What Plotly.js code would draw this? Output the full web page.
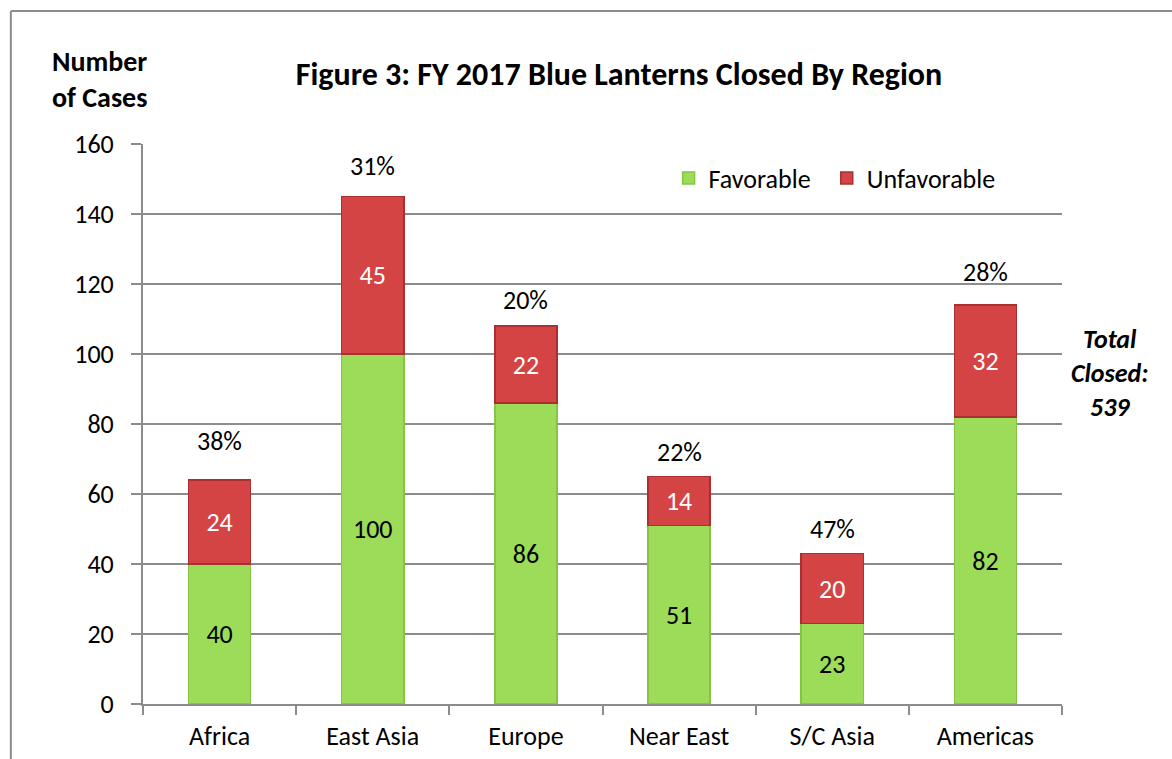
<!DOCTYPE html>
<html><head><meta charset="utf-8">
<script src="https://cdn.plot.ly/plotly-3.0.1.min.js"></script>
<style>html,body{margin:0;padding:0;background:#fff}#chart{width:1172px;height:759px}</style>
</head><body><div id="chart"></div>
<script>
const regions = ["Africa","East Asia","Europe","Near East","S/C Asia","Americas"];
const favorable = [40,100,86,51,23,82];
const unfavorable = [24,45,22,14,20,32];
const pctLabels = ["38%","31%","20%","22%","47%","28%"];
const FONT = "Carlito, Calibri, Lato, sans-serif";

const totals = favorable.map((v,i)=>v+unfavorable[i]);
const pctShift = [39, 31, 26, 25, 25, 33];

const traces = [
 {type:'bar', name:'Favorable', x:regions, y:favorable, width:0.405, legend:'legend',
  marker:{color:'#9cdc58', line:{color:'#86c444', width:1.5}},
  text:favorable.map(String), textposition:'inside', insidetextanchor:'middle',
  textfont:{family:FONT,size:26,color:'#000'}, constraintext:'none', hoverinfo:'none'},
 {type:'bar', name:'Unfavorable', x:regions, y:unfavorable, width:0.405, legend:'legend2',
  marker:{color:'#d44444', line:{color:'#a83030', width:1.5}},
  text:unfavorable.map(String), textposition:'inside', insidetextanchor:'middle',
  textfont:{family:FONT,size:26,color:'#fff'}, constraintext:'none', hoverinfo:'none'}
];

const annotations = regions.map((r,i)=>({x:r, y:totals[i], xref:'x', yref:'y', text:pctLabels[i],
  showarrow:false, yanchor:'middle', yshift:pctShift[i], font:{family:FONT,size:26,color:'#000'}}));
annotations.push({xref:'paper', yref:'paper', x:(1109-143)/918, y:(704-373)/560, text:'<b><i>Total<br>Closed:<br>539</i></b>',
  showarrow:false, xanchor:'center', yanchor:'middle', align:'center', font:{family:FONT,size:26,color:'#000'}});
annotations.push({xref:'paper', yref:'paper', x:(50-143)/918, y:(704-80)/560, text:'<b>Number<br>of Cases</b>',
  showarrow:false, xanchor:'left', yanchor:'middle', align:'left', font:{family:FONT,size:28,color:'#000'}});

const legendBase = {orientation:'h', y:(704-178)/560, xanchor:'left', yanchor:'middle', font:{family:FONT,size:26}, bgcolor:'rgba(0,0,0,0)', itemwidth:30};

const layout = {
 width:1172, height:759, barmode:'stack', showlegend:true,
 margin:{l:143, r:110, t:144, b:55},
 paper_bgcolor:'#fff', plot_bgcolor:'#fff',
 font:{family:FONT, size:26, color:'#000'},
 title:{text:'<b>Figure 3: FY 2017 Blue Lanterns Closed By Region</b>', x:(619)/1172, xanchor:'center', y:1-74/759, yanchor:'middle', font:{family:FONT,size:32,color:'#000'}},
 xaxis:{showline:true, linecolor:'#8c8c8c', linewidth:2, ticks:'outside', tickson:'boundaries', ticklen:9, tickcolor:'#8c8c8c', tickwidth:2,
   tickfont:{family:FONT,size:26}, ticklabelstandoff:8, showgrid:false, fixedrange:true},
 yaxis:{range:[0,160], dtick:20, showline:true, linecolor:'#8c8c8c', linewidth:2, ticks:'outside', ticklen:10, tickcolor:'#8c8c8c', tickwidth:2,
   gridcolor:'#8c8c8c', gridwidth:1.3, tickfont:{family:FONT,size:26}, ticklabelstandoff:12, zeroline:false, fixedrange:true},
 legend:Object.assign({}, legendBase, {x:(668-143)/918}),
 legend2:Object.assign({}, legendBase, {x:(826-143)/918}),
 annotations:annotations,
 shapes:[
  {type:'line', xref:'paper', yref:'paper', x0:(11-143)/918, x1:(1180-143)/918, y0:(704-11)/560, y1:(704-11)/560, line:{color:'#8c8c8c', width:2}},
  {type:'line', xref:'paper', yref:'paper', x0:(11-143)/918, x1:(11-143)/918, y0:(704-11)/560, y1:(704-770)/560, line:{color:'#8c8c8c', width:2}}
 ]
};
Plotly.newPlot('chart', traces, layout, {displayModeBar:false, staticPlot:true});
</script></body></html>
